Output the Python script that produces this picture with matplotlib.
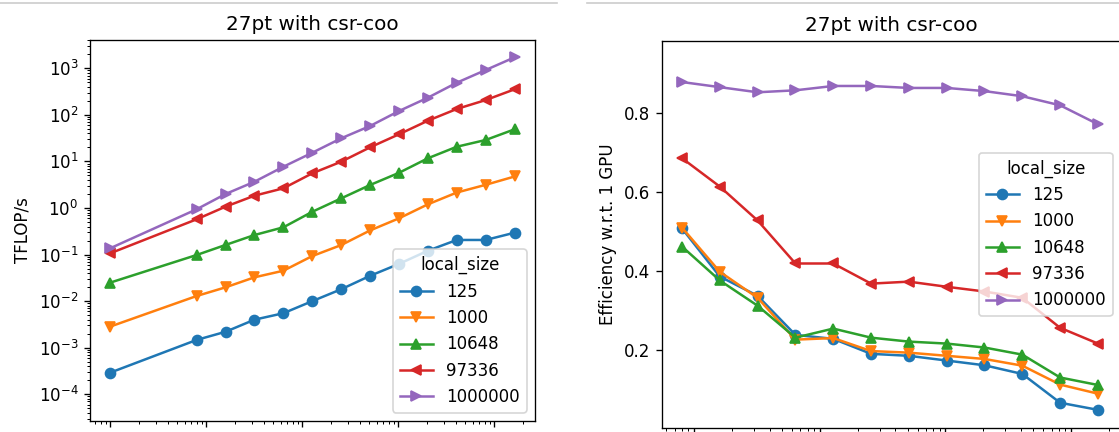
import numpy as np
import matplotlib
matplotlib.use("Agg")
import matplotlib.pyplot as plt
from matplotlib.lines import Line2D

# ============================================
# DATA
# ============================================
gpus = [1, 8, 16, 32, 64, 128, 256, 512, 1024, 2048, 4096, 8192, 16384]
local_sizes = ["125", "1000", "10648", "97336", "1000000"]
markers = ["o", "v", "^", "<", ">"]

# TFLOP/s per local_size
tflops_125     = [2.9e-4, 1.47e-3, 2.2e-3, 4.0e-3, 5.5e-3, 1.0e-2, 0.018, 0.035, 0.063, 0.121, 0.206, 0.206, 0.295]
tflops_1000    = [2.83e-3, 0.0129, 0.0198, 0.0325, 0.045, 0.093, 0.16, 0.33, 0.6, 1.2, 2.15, 3.15, 4.75]
tflops_10648   = [0.0249, 0.098, 0.161, 0.263, 0.385, 0.83, 1.61, 3.12, 5.7, 11.7, 20.7, 28.9, 49.0]
tflops_97336   = [0.106, 0.573, 1.07, 1.84, 2.65, 5.56, 9.87, 20.1, 38.3, 75.0, 134.0, 208.0, 354.0]
tflops_1000000 = [0.136, 0.94, 2.0, 3.67, 7.7, 15.4, 31.4, 57.7, 121.0, 234.0, 491.0, 919.0, 1722.0]

# Efficiency w.r.t. 1 GPU (starts at 8 GPUs)
eff_125     = [0.508, 0.386, 0.337, 0.238, 0.228, 0.190, 0.185, 0.173, 0.161, 0.139, 0.066, 0.048]
eff_1000    = [0.510, 0.398, 0.332, 0.226, 0.230, 0.197, 0.193, 0.185, 0.177, 0.160, 0.112, 0.089]
eff_10648   = [0.462, 0.376, 0.312, 0.231, 0.254, 0.231, 0.221, 0.216, 0.206, 0.188, 0.130, 0.111]
eff_97336   = [0.686, 0.614, 0.528, 0.419, 0.419, 0.368, 0.373, 0.360, 0.348, 0.332, 0.256, 0.216]
eff_1000000 = [0.879, 0.866, 0.853, 0.858, 0.869, 0.869, 0.864, 0.864, 0.856, 0.843, 0.820, 0.772]

tflops = [tflops_125, tflops_1000, tflops_10648, tflops_97336, tflops_1000000]
effs = [eff_125, eff_1000, eff_10648, eff_97336, eff_1000000]

# ============================================
# FIGURE
# ============================================
W, H = 1119, 432
DPI = 120
fig = plt.figure(figsize=(W / DPI, H / DPI), dpi=DPI)


def px_axes(x0, y0, x1, y1):
    # pixel box (top-left origin) -> figure fraction
    return fig.add_axes([x0 / W, 1 - y1 / H, (x1 - x0) / W, (y1 - y0) / H])


ax1 = px_axes(90, 40, 535, 421)
ax2 = px_axes(662, 41, 1121, 428)

# separator lines from the notebook screenshot
fig.add_artist(Line2D([0, 557 / W], [1 - 3 / H, 1 - 3 / H], color="#cccccc", lw=1.0))
fig.add_artist(Line2D([587 / W, 1], [1 - 3 / H, 1 - 3 / H], color="#cccccc", lw=1.0))

# Plot 1 - TFLOP/s
for name, m, vals in zip(local_sizes, markers, tflops):
    ax1.plot(gpus, vals, marker=m, label=name)
ax1.set_xscale("log")
ax1.set_yscale("log")
ax1.set_xlim(10 ** -0.208, 10 ** 4.427)
ax1.set_ylim(10 ** -4.574, 10 ** 3.608)
ax1.set_yticks([1e-4, 1e-3, 1e-2, 1e-1, 1e0, 1e1, 1e2, 1e3])
ax1.set_ylabel("TFLOP/s")
ax1.set_title("27pt with csr-coo")
ax1.tick_params(axis="x", which="both", labelbottom=False)
ax1.legend(title="local_size", loc="lower right")

# Plot 2 - Efficiency
for name, m, vals in zip(local_sizes, markers, effs):
    ax2.plot(gpus[1:], vals, marker=m, label=name)
ax2.set_xscale("log")
ax2.set_xlim(10 ** 0.744, 10 ** 4.398)
ax2.set_ylim(0.002, 0.983)
ax2.set_yticks([0.2, 0.4, 0.6, 0.8])
ax2.set_ylabel("Efficiency w.r.t. 1 GPU")
ax2.set_title("27pt with csr-coo")
ax2.tick_params(axis="x", which="both", labelbottom=False)
ax2.legend(title="local_size", loc="center right")

fig.savefig("out.png", dpi=DPI)
